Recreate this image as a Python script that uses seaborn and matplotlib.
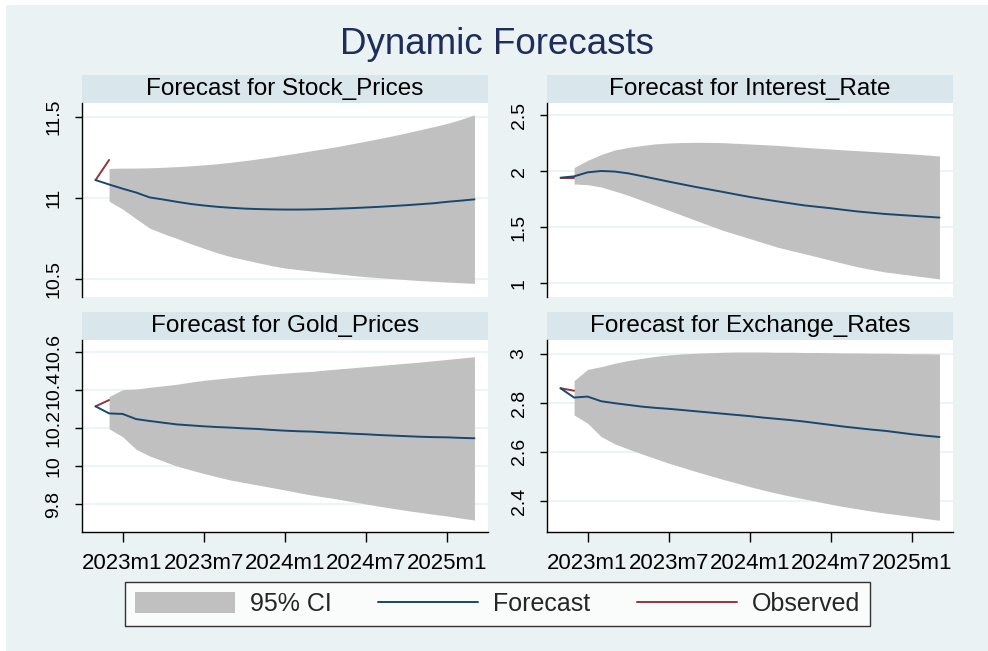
import numpy as np
import pandas as pd
import matplotlib
matplotlib.use("Agg")
import matplotlib.pyplot as plt
from matplotlib.patches import Rectangle, Patch
from matplotlib.lines import Line2D
from matplotlib.ticker import FixedLocator, FuncFormatter
import seaborn as sns

# ---- data -------------------------------------------------------------
months = pd.period_range("2022-11", "2025-03", freq="M")

stock_forecast = [11.109, 11.082, 11.056, 11.032, 11.002, 10.989, 10.975, 10.962,
                  10.952, 10.944, 10.938, 10.933, 10.930, 10.928, 10.927, 10.927,
                  10.928, 10.930, 10.933, 10.936, 10.940, 10.944, 10.949, 10.954,
                  10.960, 10.966, 10.975, 10.982, 10.990]
stock_upper = [np.nan, 11.181, 11.183, 11.183, 11.185, 11.188, 11.192, 11.197,
               11.203, 11.210, 11.219, 11.229, 11.240, 11.252, 11.264, 11.277,
               11.291, 11.304, 11.318, 11.334, 11.350, 11.366, 11.383, 11.401,
               11.420, 11.439, 11.459, 11.484, 11.512]
stock_lower = [np.nan, 10.979, 10.930, 10.870, 10.812, 10.779, 10.749, 10.717,
               10.688, 10.660, 10.636, 10.617, 10.599, 10.581, 10.566, 10.556,
               10.547, 10.538, 10.529, 10.520, 10.512, 10.506, 10.500, 10.494,
               10.488, 10.484, 10.479, 10.475, 10.471]
stock_observed = [11.109, 11.233]

rate_forecast = [1.943, 1.955, 1.991, 2.003, 1.998, 1.982, 1.958, 1.933, 1.908,
                 1.884, 1.860, 1.838, 1.816, 1.793, 1.771, 1.751, 1.732, 1.714,
                 1.696, 1.683, 1.670, 1.655, 1.641, 1.630, 1.619, 1.611, 1.603,
                 1.595, 1.587]
rate_upper = [np.nan, 2.033, 2.098, 2.150, 2.190, 2.213, 2.230, 2.245, 2.253,
              2.257, 2.259, 2.258, 2.256, 2.250, 2.244, 2.238, 2.232, 2.223,
              2.214, 2.206, 2.199, 2.191, 2.184, 2.177, 2.170, 2.162, 2.155,
              2.146, 2.137]
rate_lower = [np.nan, 1.887, 1.881, 1.860, 1.824, 1.786, 1.741, 1.697, 1.652,
              1.607, 1.562, 1.517, 1.473, 1.436, 1.399, 1.361, 1.324, 1.294,
              1.265, 1.235, 1.205, 1.175, 1.146, 1.123, 1.101, 1.086, 1.071,
              1.055, 1.039]
rate_observed = [1.940, 1.940]

gold_forecast = [10.314, 10.277, 10.274, 10.247, 10.237, 10.228, 10.219, 10.214,
                 10.209, 10.205, 10.202, 10.198, 10.195, 10.190, 10.186, 10.183,
                 10.181, 10.177, 10.174, 10.170, 10.167, 10.163, 10.160, 10.157,
                 10.154, 10.152, 10.151, 10.148, 10.146]
gold_upper = [np.nan, 10.365, 10.402, 10.405, 10.414, 10.422, 10.430, 10.441,
              10.451, 10.458, 10.465, 10.472, 10.479, 10.484, 10.489, 10.494,
              10.498, 10.505, 10.511, 10.517, 10.523, 10.529, 10.535, 10.541,
              10.547, 10.554, 10.561, 10.568, 10.575]
gold_lower = [np.nan, 10.196, 10.154, 10.088, 10.053, 10.026, 10.000, 9.980,
              9.961, 9.943, 9.926, 9.913, 9.900, 9.887, 9.874, 9.860, 9.847,
              9.836, 9.825, 9.812, 9.800, 9.788, 9.777, 9.766, 9.756, 9.746,
              9.737, 9.726, 9.716]
gold_observed = [10.314, 10.347]

fx_forecast = [2.860, 2.822, 2.826, 2.807, 2.799, 2.792, 2.785, 2.780, 2.776,
               2.771, 2.766, 2.761, 2.756, 2.751, 2.746, 2.740, 2.735, 2.730,
               2.724, 2.717, 2.710, 2.703, 2.697, 2.691, 2.686, 2.679, 2.672,
               2.666, 2.661]
fx_upper = [np.nan, 2.891, 2.937, 2.948, 2.962, 2.973, 2.982, 2.990, 2.996,
            3.000, 3.003, 3.005, 3.007, 3.008, 3.008, 3.008, 3.007, 3.007,
            3.006, 3.006, 3.005, 3.004, 3.004, 3.003, 3.003, 3.002, 3.001,
            3.001, 3.000]
fx_lower = [np.nan, 2.751, 2.717, 2.663, 2.633, 2.612, 2.592, 2.573, 2.554,
            2.537, 2.520, 2.504, 2.488, 2.473, 2.458, 2.444, 2.431, 2.419,
            2.408, 2.397, 2.386, 2.376, 2.367, 2.358, 2.350, 2.343, 2.336,
            2.328, 2.321]
fx_observed = [2.860, 2.850]

titles = ["Forecast for Stock_Prices", "Forecast for Interest_Rate",
          "Forecast for Gold_Prices", "Forecast for Exchange_Rates"]
y_ticks = [[10.5, 11, 11.5], [1, 1.5, 2, 2.5],
           [9.8, 10, 10.2, 10.4, 10.6], [2.4, 2.6, 2.8, 3]]
y_limits = [(10.387, 11.585), (0.878, 2.61), (9.653, 10.663), (2.273, 3.057)]
x_tick_labels = ["2023m1", "2023m7", "2024m1", "2024m7", "2025m1"]

# ---- style ------------------------------------------------------------
sns.set_theme(style="white")
plt.rcParams["font.family"] = ["Liberation Sans", "DejaVu Sans"]

BG = "#EAF2F3"
STRIP = "#D9E6EB"
CI = "#C0C0C0"
FC = "#1A476F"
OBS = "#90353B"
TITLE = "#1E2D5A"


def month_num(label):
    """Monthly date code: months elapsed since 1960m1."""
    y, m = label.split("m")
    return (int(y) - 1960) * 12 + int(m) - 1


def month_label(v, _pos=None):
    v = int(round(v))
    return f"{1960 + v // 12}m{v % 12 + 1}"


tm = np.array([(p.year - 1960) * 12 + p.month - 1 for p in months])
x_ticks = [month_num(s) for s in x_tick_labels]

W, H = 988, 651
fig = plt.figure(figsize=(W / 100, H / 100), dpi=100)
fig.patch.set_facecolor("white")
fig.add_artist(Rectangle((6 / W, 0), 1, (H - 5) / H, transform=fig.transFigure,
                         facecolor=BG, edgecolor="none", zorder=-10))

fig.text(497 / W, 1 - 45 / H, "Dynamic Forecasts", ha="center", va="center",
         fontsize=26.5, color=TITLE)

# plot regions in pixels: (left, top, right, bottom)
boxes = [(82, 103, 488, 297), (547, 103, 953, 297),
         (82, 340, 488, 532), (547, 340, 953, 532)]

panels = [
    (stock_forecast, stock_upper, stock_lower, stock_observed),
    (rate_forecast, rate_upper, rate_lower, rate_observed),
    (gold_forecast, gold_upper, gold_lower, gold_observed),
    (fx_forecast, fx_upper, fx_lower, fx_observed),
]

for i, ((fc, up, lo, obs), box) in enumerate(zip(panels, boxes)):
    l, t, r, b = box
    ax = fig.add_axes([l / W, 1 - b / H, (r - l) / W, (b - t) / H])
    ax.set_facecolor("white")

    df = pd.DataFrame({"month": tm, "forecast": fc, "upper": up, "lower": lo})
    ax.fill_between(df["month"], df["lower"], df["upper"], color=CI,
                    linewidth=0, zorder=1)
    sns.lineplot(data=df, x="month", y="forecast", ax=ax, color=FC,
                 linewidth=1.4, zorder=3)
    obs_df = pd.DataFrame({"month": tm[:len(obs)], "observed": obs})
    sns.lineplot(data=obs_df, x="month", y="observed", ax=ax, color=OBS,
                 linewidth=1.4, zorder=2)

    ax.set_xlim(753, 783)
    ax.set_ylim(*y_limits[i])
    ax.set_xlabel("")
    ax.set_ylabel("")

    ax.yaxis.set_major_locator(FixedLocator(y_ticks[i]))
    ax.yaxis.set_major_formatter(FuncFormatter(lambda v, p: f"{v:g}"))
    ax.grid(axis="y", color=BG, linewidth=1.2, zorder=0)
    ax.set_axisbelow(True)
    ax.tick_params(axis="y", which="major", left=True, length=5, width=1,
                   color="black", labelsize=14, pad=9, labelcolor="black")
    for lab in ax.get_yticklabels():
        lab.set_rotation(90)
        lab.set_va("center")

    for s in ("top", "right"):
        ax.spines[s].set_visible(False)
    ax.spines["left"].set_color("black")
    ax.spines["left"].set_linewidth(1)

    if i >= 2:
        ax.xaxis.set_major_locator(FixedLocator(x_ticks))
        ax.xaxis.set_major_formatter(FuncFormatter(month_label))
        ax.tick_params(axis="x", bottom=True, length=7, width=1, color="black",
                       labelsize=16, pad=8, labelcolor="black")
        ax.spines["bottom"].set_color("black")
        ax.spines["bottom"].set_linewidth(1)
    else:
        ax.spines["bottom"].set_visible(False)
        ax.tick_params(axis="x", bottom=False, labelbottom=False)

    # title strip above the plot region
    h = b - t
    ax.add_patch(Rectangle((0, 1), 1, 28 / h, transform=ax.transAxes,
                           facecolor=STRIP, edgecolor="none", clip_on=False))
    ax.text(0.5, 1 + 14 / h, titles[i], transform=ax.transAxes, ha="center",
            va="center", fontsize=17.5, color="black")

handles = [Patch(facecolor=CI, edgecolor="none", label="95% CI"),
           Line2D([], [], color=FC, linewidth=1.4, label="Forecast"),
           Line2D([], [], color=OBS, linewidth=1.4, label="Observed")]
leg = fig.legend(handles=handles, loc="center", ncol=3,
                 bbox_to_anchor=(497.5 / W, 1 - 604 / H), fontsize=18,
                 frameon=True, fancybox=False, edgecolor="black",
                 handlelength=4.0, handleheight=0.9, handletextpad=0.6,
                 columnspacing=1.85, borderpad=0.4)
leg.get_frame().set_linewidth(1)
leg.get_frame().set_facecolor("white")

fig.savefig("out.png", dpi=100, facecolor=fig.get_facecolor())
